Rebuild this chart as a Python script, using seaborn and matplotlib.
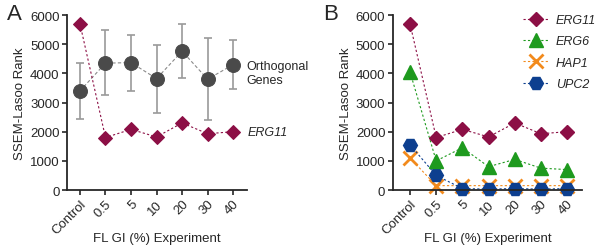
import matplotlib
matplotlib.use("Agg")
import matplotlib.pyplot as plt
import seaborn as sns
import pandas as pd

sns.set_style("ticks")
plt.rcParams['font.family'] = ['Liberation Sans', 'DejaVu Sans']

conditions = ["Control", "0.5", "5", "10", "20", "30", "40"]

orth_mean = [3400, 4350, 4370, 3820, 4760, 3800, 4300]
orth_low = [2420, 3250, 3400, 2650, 3840, 2400, 3450]
orth_high = [4350, 5480, 5330, 4980, 5700, 5200, 5150]

erg11 = [5700, 1800, 2080, 1820, 2300, 1930, 2000]
erg6 = [4050, 1000, 1450, 800, 1050, 750, 700]
hap1 = [1100, 150, 150, 150, 150, 150, 150]
upc2 = [1550, 500, 50, 30, 50, 30, 50]

maroon = "#8c0f45"
grey = "#4a4a4a"
green = "#1e9a1e"
orange = "#f28a1c"
blue = "#0d3f8f"

pos = list(range(len(conditions)))

fig = plt.figure(figsize=(6, 2.51), dpi=100)
axA = fig.add_axes([0.112, 0.239, 0.300, 0.697])
axB = fig.add_axes([0.655, 0.239, 0.315, 0.697])


def style_axis(ax, xlim):
    ax.set_xlim(*xlim)
    ax.set_ylim(0, 6000)
    ax.set_yticks(range(0, 6001, 1000))
    ax.set_xticks(pos)
    ax.set_xticklabels(conditions, rotation=45, ha="right", rotation_mode="anchor")
    ax.tick_params(labelsize=9.5, length=3.5, width=1.2, direction="out", pad=2)
    for s in ["left", "bottom"]:
        ax.spines[s].set_linewidth(1.3)
    sns.despine(ax=ax)
    ax.set_ylabel("SSEM-Lasoo Rank", fontsize=9.5, labelpad=3)
    ax.set_xlabel("FL GI (%) Experiment", fontsize=9.5, labelpad=-3)


# Panel A
dfA = pd.DataFrame({"pos": pos, "orth": orth_mean, "erg11": erg11})
err = [[m - lo for m, lo in zip(orth_mean, orth_low)],
       [hi - m for m, hi in zip(orth_mean, orth_high)]]
axA.errorbar(pos, orth_mean, yerr=err, fmt="none", ecolor="#9a9a9a",
             elinewidth=1.2, capsize=3, capthick=1.2, zorder=2)
sns.lineplot(data=dfA, x="pos", y="orth", ax=axA, color="#8a8a8a", lw=0.8,
             linestyle=(0, (3, 2)), marker="o", markersize=10,
             markerfacecolor=grey, markeredgecolor=grey, zorder=3)
sns.lineplot(data=dfA, x="pos", y="erg11", ax=axA, color=maroon, lw=0.8,
             linestyle=(0, (2, 2)), marker="D", markersize=7.5,
             markerfacecolor=maroon, markeredgecolor=maroon, zorder=4)
for ln in axA.lines:
    ln.set_clip_on(False)
style_axis(axA, (-0.5, 6.55))
axA.text(6.5, 4000, "Orthogonal\nGenes", fontsize=9, va="center", ha="left")
axA.text(6.55, 2000, "ERG11", fontsize=9, va="center", ha="left", style="italic")
fig.text(0.012, 0.985, "A", fontsize=16, va="top")

# Panel B
dfB = pd.DataFrame({"pos": pos, "ERG11": erg11, "ERG6": erg6,
                    "HAP1": hap1, "UPC2": upc2})
specs = [("HAP1", orange, "x", 10), ("UPC2", blue, "H", 10),
         ("ERG6", green, "^", 10), ("ERG11", maroon, "D", 7.5)]
handles = {}
for name, col, mk, ms in specs:
    sns.lineplot(data=dfB, x="pos", y=name, ax=axB, color=col, lw=0.8,
                 linestyle=(0, (2, 2)), marker=mk, markersize=ms,
                 markerfacecolor=col, markeredgecolor=col,
                 markeredgewidth=2 if mk == "x" else 1)
    handles[name] = axB.lines[-1]
for ln in axB.lines:
    ln.set_clip_on(False)
style_axis(axB, (-0.65, 6.57))
order = ["ERG11", "ERG6", "HAP1", "UPC2"]
leg = axB.legend([handles[n] for n in order], order, loc="upper left",
                 bbox_to_anchor=(0.63, 1.07), frameon=False, fontsize=9,
                 handlelength=2.0, labelspacing=0.75, handletextpad=0.6)
for t in leg.get_texts():
    t.set_style("italic")
fig.text(0.538, 0.985, "B", fontsize=16, va="top")

fig.savefig("out.png", dpi=100)
